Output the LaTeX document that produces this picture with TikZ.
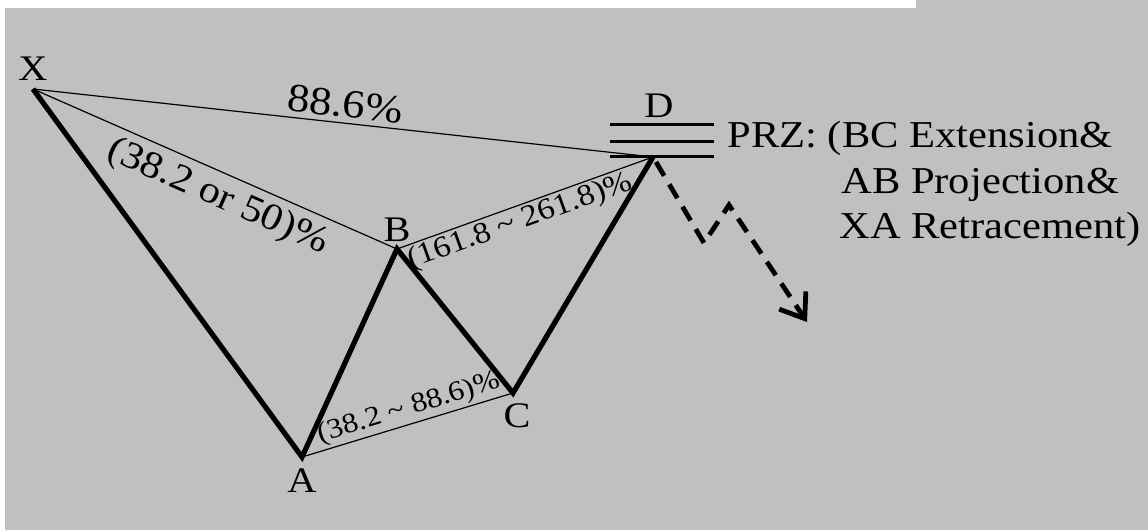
\documentclass[tikz,border=0pt]{standalone}
\usepackage{fontspec}
\setmainfont{Liberation Serif}[FakeStretch=1.12]
\usetikzlibrary{positioning}
\usetikzlibrary{arrows.meta}
\definecolor{bggray}{RGB}{192,192,192}

\begin{document}
\begin{tikzpicture}[x=0.5pt,y=-0.5pt,
  leg/.style={line width=2.6pt,line join=miter},
  ratio/.style={line width=0.6pt},
  lbl/.style={inner sep=0pt,font=\fontsize{18}{20}\selectfont},
  pct/.style={sloped,inner sep=1pt},
  zone/.style={line width=1.5pt},
  przt/.style={inner sep=0pt,anchor=base west,font=\fontsize{19}{22}\selectfont},
  proj/.style={line width=2.4pt,line join=miter,dash pattern=on 8pt off 5pt,
    -{Straight Barb[length=11pt,width=16pt]}}]
\fill[white] (0,0) rectangle (1148,530);
\fill[bggray] (5,530) -- (5,8) -- (916,8) -- (916,0) -- (1148,0) -- (1148,530) -- cycle;
% turning points
\coordinate (X) at (33,89);
\coordinate (A) at (302,457);
\coordinate (B) at (397,249);
\coordinate (C) at (513,393);
\coordinate (D) at (653,157);
\coordinate (top) at (662,124);
% ratio lines
\draw[ratio] (X) -- node[pct,above,inner sep=2.5pt,font=\fontsize{20}{24}\selectfont] (xd) {88.6\%} (D);
\draw[ratio] (X) -- node[pct,below,pos=0.535,inner sep=3.5pt,font=\fontsize{19}{22}\selectfont] (xb) {(38.2 or 50)\%} (B);
\draw[ratio] (B) -- node[pct,below,pos=0.46,font=\fontsize{15}{18}\selectfont] (bd) {(161.8 \textasciitilde{} 261.8)\%} (D);
\draw[ratio] (A) -- node[pct,above,pos=0.53,font=\fontsize{14}{17}\selectfont] (ac) {(38.2 \textasciitilde{} 88.6)\%} (C);
% the pattern
\draw[leg] (X) -- (A) -- (B) -- (C) -- (D);
\foreach \y in {124,141,156}
  \draw[zone] (610,\y) -- (714,\y);
\node[lbl,above=4pt of X] (xl) {X};
\node[lbl,below=5.5pt of A] (al) {A};
\node[lbl,above=3.5pt of B] (bl) {B};
\node[lbl,below=5pt of C,xshift=2pt] (cl) {C};
\node[lbl,above=3pt of top,xshift=-1.5pt] (dl) {D};
\node[przt] (prz1) at (727,148) {PRZ: (BC Extension\&};
\node[przt] (prz2) at (841,193) {AB Projection\&};
\node[przt] (prz3) at (839,238) {XA Retracement)};
% expected move
\coordinate (m0) at (656,162);
\coordinate (m1) at (704,243);
\coordinate (m2) at (729,205);
\coordinate (m3) at (807,322);
\draw[proj] (m0) -- (m1) -- (m2) -- (m3);
\end{tikzpicture}
\end{document}
